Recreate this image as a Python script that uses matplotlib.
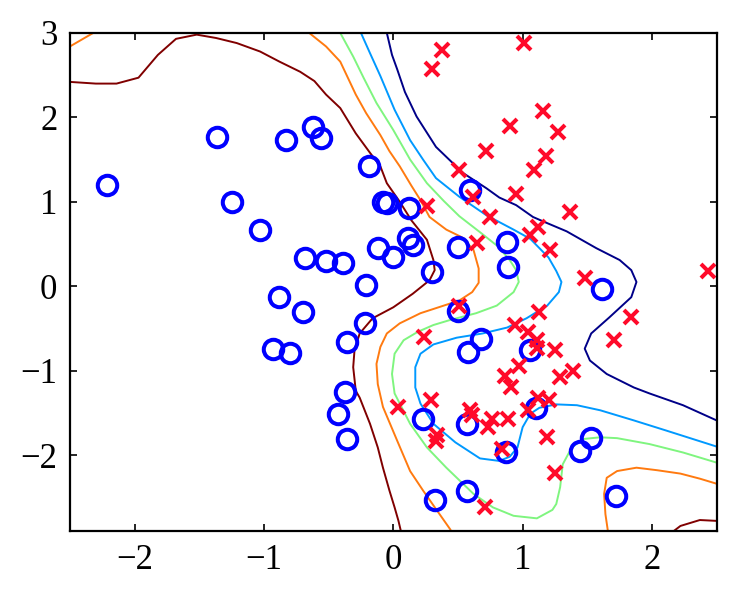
import matplotlib
matplotlib.use('Agg')
from matplotlib import pyplot as plt

# class 1 (blue circles)
blue_x = [-2.21, -1.36, -0.83, -0.62, -0.56, -1.25, -1.03, -0.68, -0.88, -0.70,
          -0.93, -0.80, -0.52, -0.39, -0.19, -0.08, -0.05, 0.12, -0.12, 0.00,
          0.11, 0.15, -0.21, 0.30, -0.36, -0.22, -0.37, -0.43, -0.36, 0.50,
          0.50, 0.59, 0.88, 0.89, 0.58, 0.68, 1.06, 0.23, 0.57, 0.87,
          1.10, 1.61, 1.44, 1.53, 0.32, 0.57, 1.72]
blue_y = [1.20, 1.77, 1.73, 1.89, 1.75, 1.00, 0.66, 0.33, -0.13, -0.30,
          -0.74, -0.79, 0.30, 0.28, 1.42, 1.00, 0.99, 0.93, 0.45, 0.35,
          0.57, 0.49, 0.01, 0.17, -0.66, -0.44, -1.25, -1.51, -1.81, 0.47,
          -0.29, 1.14, 0.52, 0.23, -0.78, -0.62, -0.76, -1.57, -1.63, -1.97,
          -1.44, -0.03, -1.95, -1.80, -2.53, -2.43, -2.49]

# class 2 (red crosses)
red_x = [0.38, 0.30, 1.01, 1.16, 0.90, 1.27, 0.72, 1.18, 1.09, 0.51,
         0.95, 0.62, 0.26, 1.37, 0.75, 1.12, 1.06, 0.65, 1.21, 1.48,
         2.43, 0.51, 1.13, 0.94, 1.04, 1.11, 1.11, 1.25, 0.97, 0.86,
         0.91, 1.39, 1.29, 1.84, 1.71, 0.24, 0.04, 0.29, 0.33, 0.34,
         0.59, 0.61, 0.76, 0.73, 0.89, 1.04, 1.12, 1.20, 1.19, 0.84,
         1.25, 0.71]
red_y = [2.80, 2.57, 2.88, 2.07, 1.90, 1.83, 1.60, 1.54, 1.38, 1.38,
         1.09, 1.06, 0.95, 0.88, 0.82, 0.70, 0.61, 0.51, 0.43, 0.10,
         0.18, -0.24, -0.31, -0.46, -0.54, -0.64, -0.73, -0.76, -0.95, -1.06,
         -1.20, -1.00, -1.08, -0.36, -0.64, -0.60, -1.43, -1.35, -1.83, -1.76,
         -1.47, -1.53, -1.57, -1.67, -1.57, -1.47, -1.33, -1.35, -1.79, -1.93,
         -2.21, -2.62]

# contour lines of the predictive output, outermost (blue side) first
c1_x = [[-2.50, -2.30, -2.14, -1.97, -1.82, -1.68, -1.52, -1.37, -1.21, -1.03,
         -0.88, -0.72, -0.61, -0.52, -0.41, -0.29, -0.18, -0.10, -0.05, 0.05,
         0.14, 0.26, 0.31, 0.32, 0.28, 0.15, 0.00, -0.16, -0.26, -0.30,
         -0.31, -0.29, -0.26, -0.18, -0.12, -0.08, -0.03, 0.01, 0.04, 0.06],
        [2.16, 2.22, 2.37, 2.50]]
c1_y = [[2.42, 2.40, 2.40, 2.47, 2.74, 2.93, 2.98, 2.94, 2.88, 2.78,
         2.66, 2.54, 2.43, 2.27, 2.11, 1.81, 1.58, 1.42, 1.22, 1.00,
         0.78, 0.55, 0.31, 0.19, 0.07, -0.09, -0.25, -0.38, -0.56, -0.76,
         -0.96, -1.24, -1.32, -1.63, -1.91, -2.15, -2.42, -2.62, -2.78, -2.91],
        [-2.91, -2.84, -2.77, -2.78]]

c2_x = [[-2.50, -2.32],
        [-0.65, -0.52, -0.41, -0.29, -0.21, -0.10, -0.03, 0.05, 0.14, 0.21,
         0.28, 0.41, 0.53, 0.62, 0.66, 0.66, 0.61, 0.51, 0.39, 0.21,
         0.05, -0.05, -0.10, -0.13, -0.12, -0.08, 0.03, 0.13, 0.23, 0.33,
         0.44, 0.45],
        [1.66, 1.64, 1.63, 1.65, 1.73, 1.88, 2.04, 2.22, 2.37, 2.50]]
c2_y = [[2.84, 3.00],
        [3.00, 2.84, 2.66, 2.27, 2.05, 1.79, 1.60, 1.42, 1.19, 1.02,
         0.82, 0.67, 0.58, 0.43, 0.21, 0.04, -0.07, -0.17, -0.23, -0.32,
         -0.44, -0.56, -0.72, -0.92, -1.16, -1.43, -1.83, -2.19, -2.42, -2.64,
         -2.88, -2.91],
        [-2.91, -2.70, -2.46, -2.27, -2.19, -2.15, -2.18, -2.22, -2.28, -2.34]]

c3_x = [[-0.41, -0.31, -0.23, -0.13, 0.00, 0.13, 0.26, 0.39, 0.51, 0.67,
         0.81, 0.90, 0.95, 0.97, 0.93, 0.80, 0.64, 0.44, 0.31, 0.19,
         0.08, 0.01, -0.01, 0.01, 0.05, 0.13, 0.26, 0.41, 0.62, 0.77,
         0.93, 1.11, 1.23, 1.26, 1.29, 1.31, 1.38, 1.47, 1.60, 1.73,
         1.98, 2.24, 2.50]]
c3_y = [[3.00, 2.72, 2.47, 2.17, 1.85, 1.50, 1.22, 1.01, 0.83, 0.64,
         0.47, 0.31, 0.19, 0.05, -0.07, -0.23, -0.32, -0.40, -0.46, -0.54,
         -0.64, -0.80, -1.04, -1.27, -1.39, -1.63, -1.91, -2.15, -2.46, -2.62,
         -2.72, -2.75, -2.65, -2.58, -2.38, -2.11, -1.91, -1.81, -1.79, -1.80,
         -1.87, -1.97, -2.09]]

c4_x = [[-0.25, -0.18, -0.10, 0.01, 0.13, 0.23, 0.33, 0.51, 0.72, 0.93,
         1.06, 1.20, 1.26, 1.30, 1.28, 1.19, 1.03, 0.88, 0.69, 0.49,
         0.31, 0.21, 0.17, 0.17, 0.21, 0.31, 0.48, 0.67, 0.82, 0.90,
         0.96, 1.00, 1.06, 1.13, 1.26, 1.42, 1.60, 1.86, 2.11, 2.50]]
c4_y = [[3.00, 2.76, 2.49, 2.09, 1.73, 1.50, 1.28, 1.06, 0.84, 0.67,
         0.56, 0.34, 0.18, 0.05, -0.07, -0.23, -0.38, -0.49, -0.56, -0.61,
         -0.69, -0.80, -0.96, -1.20, -1.39, -1.63, -1.85, -2.04, -2.07, -2.02,
         -1.91, -1.67, -1.51, -1.44, -1.40, -1.41, -1.47, -1.59, -1.71, -1.90]]

c5_x = [[-0.05, -0.01, 0.03, 0.09, 0.18, 0.33, 0.54, 0.72, 0.82, 0.95,
         1.08, 1.17, 1.34, 1.57, 1.75, 1.84, 1.88, 1.84, 1.67, 1.53,
         1.48, 1.52, 1.65, 1.86, 1.98, 2.24, 2.50]]
c5_y = [[3.00, 2.74, 2.57, 2.30, 2.01, 1.65, 1.34, 1.16, 1.05, 0.96,
         0.82, 0.76, 0.65, 0.45, 0.31, 0.19, 0.05, -0.13, -0.37, -0.56,
         -0.74, -0.88, -1.04, -1.20, -1.27, -1.41, -1.59]]

contour_x = [c1_x, c2_x, c3_x, c4_x, c5_x]
contour_y = [c1_y, c2_y, c3_y, c4_y, c5_y]
contour_colors = ['#800000', '#ff7a10', '#7ff57f', '#0099ff', '#000088']

plt.rcParams['font.family'] = ['Liberation Serif', 'DejaVu Serif']
plt.rcParams['axes.unicode_minus'] = True

fig = plt.figure(figsize=(7.52, 6.10), dpi=100)
ax = fig.add_axes([0.093, 0.1295, 0.860, 0.8165])

for xs, ys, col in zip(contour_x, contour_y, contour_colors):
    for px, py in zip(xs, ys):
        ax.plot(px, py, color=col, linewidth=1.4)

ax.plot(blue_x, blue_y, 'o', markerfacecolor='none', markeredgecolor='#0000ff',
        markersize=14, markeredgewidth=2.9, linestyle='none')
ax.plot(red_x, red_y, 'x', color='#ff0a2a', markersize=10.5, markeredgewidth=2.9,
        linestyle='none')

ax.set_xlim(-2.5, 2.5)
ax.set_ylim(-2.9, 3.0)
ax.set_xticks([-2, -1, 0, 1, 2])
ax.set_yticks([-2, -1, 0, 1, 2, 3])
ax.tick_params(direction='in', length=5, width=1.2, top=True, right=True,
               labelsize=25, pad=9)
for s in ax.spines.values():
    s.set_linewidth(1.6)

fig.savefig('out.png', dpi=100)
